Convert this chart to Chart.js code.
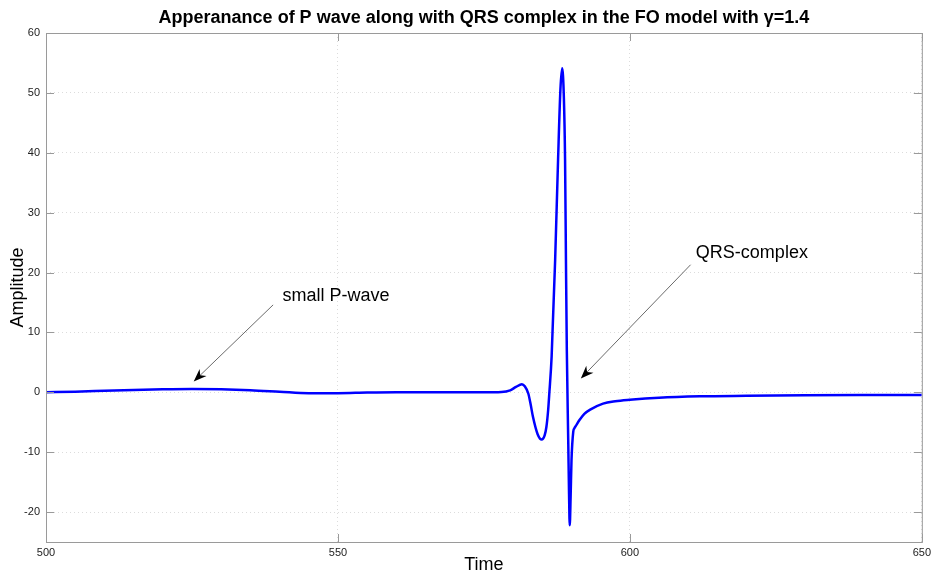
<!DOCTYPE html>
<html>
<head>
<meta charset="utf-8">
<script src="https://cdn.jsdelivr.net/npm/chart.js@4/dist/chart.umd.min.js"></script>
<style>
  html, body { margin: 0; padding: 0; background: #fff; }
  #wrap { width: 935px; height: 577px; }
</style>
</head>
<body>
<div id="wrap"><canvas id="ecg" width="935" height="577"></canvas></div>
<script>
// values
const times = [500, 505, 510, 515, 520, 525, 530, 535, 540, 545,
    550, 555, 560, 565, 570, 575, 578, 579.5, 580.5, 581.5,
    582.0, 582.6, 583.0, 583.4, 584.2, 584.9, 585.4, 585.7, 586.0, 586.2,
    586.6, 587.2, 587.7, 588.1, 588.4, 588.7, 588.9, 589.05, 589.2, 589.45,
    589.58, 589.7, 589.85, 590.0, 590.3, 590.5, 590.75, 591.4, 592.2, 593.2,
    595.4, 597.5, 600, 605, 612, 620, 630, 640, 650];
const amplitude = [0, 0.1, 0.25, 0.4, 0.5, 0.55, 0.5, 0.35, 0.1, -0.15,
    -0.15, -0.05, 0, 0, 0, 0, 0.05, 0.33, 0.9, 1.35,
    1.0, -0.2, -2.0, -4.1, -7.0, -7.9, -7.2, -5.8, -3.0, -0.2,
    6.0, 22.1, 38.8, 50.5, 54.1, 49.0, 38.8, 22.1, 7.0, -8.6,
    -17.0, -22.2, -17.5, -11.4, -6.6, -6.0, -5.6, -4.6, -3.6, -2.9,
    -1.9, -1.5, -1.25, -0.9, -0.67, -0.58, -0.5, -0.47, -0.45];
const xTicks = [500, 550, 600, 650];
const yTicks = [-20, -10, 0, 10, 20, 30, 40, 50, 60];

const titleText = 'Apperanance of P wave along with QRS complex in the FO model with \u03b3=1.4';

// annotations, in data units: text anchor and arrow tail -> head
const notes = [
    { text: 'small P-wave', tx: 540.5, ty: 16.0, from: [538.9, 14.6], to: [525.3, 1.8] },
    { text: 'QRS-complex', tx: 611.3, ty: 23.2, from: [610.4, 21.3], to: [591.6, 2.3] }
];

const FONT = 'Arial, "Liberation Sans", sans-serif';

// box, inward ticks, title and arrows
const framePlugin = {
    id: 'frame',
    afterDraw(chart) {
        const { ctx, chartArea: a, scales } = chart;
        ctx.save();
        ctx.strokeStyle = '#9a9a9a';
        ctx.lineWidth = 1;
        ctx.strokeRect(a.left + 0.5, a.top + 0.5, a.right - a.left, a.bottom - a.top);
        ctx.beginPath();
        yTicks.forEach(v => {
            const y = Math.round(scales.y.getPixelForValue(v)) + 0.5;
            ctx.moveTo(a.left, y); ctx.lineTo(a.left + 8, y);
            ctx.moveTo(a.right, y); ctx.lineTo(a.right - 8, y);
        });
        xTicks.forEach(v => {
            const x = Math.round(scales.x.getPixelForValue(v)) + 0.5;
            ctx.moveTo(x, a.bottom); ctx.lineTo(x, a.bottom - 8);
            ctx.moveTo(x, a.top); ctx.lineTo(x, a.top + 8);
        });
        ctx.stroke();

        // title
        ctx.fillStyle = '#000';
        ctx.font = 'bold 18px ' + FONT;
        ctx.textAlign = 'center';
        ctx.textBaseline = 'middle';
        ctx.fillText(titleText, (a.left + a.right) / 2, 18);

        // arrows with labels
        notes.forEach(n => {
            const x0 = scales.x.getPixelForValue(n.from[0]), y0 = scales.y.getPixelForValue(n.from[1]);
            const x1 = scales.x.getPixelForValue(n.to[0]), y1 = scales.y.getPixelForValue(n.to[1]);
            const c = Math.cos(Math.atan2(y1 - y0, x1 - x0)), s = Math.sin(Math.atan2(y1 - y0, x1 - x0));
            ctx.strokeStyle = '#6a6a6a';
            ctx.lineWidth = 1;
            ctx.beginPath();
            ctx.moveTo(x0, y0);
            ctx.lineTo(x1 - 8 * c, y1 - 8 * s);
            ctx.stroke();
            ctx.fillStyle = '#000';
            ctx.beginPath();
            ctx.moveTo(x1, y1);
            ctx.lineTo(x1 - 13 * c + 5 * s, y1 - 13 * s - 5 * c);
            ctx.lineTo(x1 - 9 * c, y1 - 9 * s);
            ctx.lineTo(x1 - 13 * c - 5 * s, y1 - 13 * s + 5 * c);
            ctx.closePath();
            ctx.fill();
            ctx.font = '18px ' + FONT;
            ctx.textAlign = 'left';
            ctx.textBaseline = 'middle';
            ctx.fillText(n.text, scales.x.getPixelForValue(n.tx), scales.y.getPixelForValue(n.ty));
        });
        ctx.restore();
    }
};

new Chart(document.getElementById('ecg'), {
    type: 'line',
    data: {
        datasets: [{
            label: 'signal',
            data: times.map((t, i) => ({ x: t, y: amplitude[i] })),
            borderColor: '#0000ff',
            borderWidth: 2.5,
            pointRadius: 0,
            fill: false,
            cubicInterpolationMode: 'monotone'
        }]
    },
    options: {
        responsive: false,
        animation: false,
        layout: { padding: { left: 0, right: 13, top: 33, bottom: 0 } },
        plugins: {
            legend: { display: false },
            title: { display: false },
            tooltip: { enabled: false }
        },
        scales: {
            x: {
                type: 'linear',
                min: 500,
                max: 650,
                afterBuildTicks: s => { s.ticks = xTicks.map(v => ({ value: v })); },
                afterFit: s => { s.height = 35; },
                grid: { color: '#dcdcdc', drawTicks: false },
                border: { display: false, dash: [1, 3] },
                ticks: { padding: 4, color: '#222', font: { family: FONT, size: 11 }, maxRotation: 0 },
                title: { display: true, text: 'Time', color: '#000', font: { family: FONT, size: 18 }, padding: { top: 0, bottom: 1 } }
            },
            y: {
                min: -25,
                max: 60,
                afterBuildTicks: s => { s.ticks = yTicks.map(v => ({ value: v })); },
                afterFit: s => { s.width = 46; },
                grid: { color: '#dcdcdc', drawTicks: false },
                border: { display: false, dash: [1, 3] },
                ticks: { padding: 6, color: '#222', font: { family: FONT, size: 11 } },
                title: { display: true, text: 'Amplitude', color: '#000', font: { family: FONT, size: 18 }, padding: { top: 7, bottom: 0 } }
            }
        }
    },
    plugins: [framePlugin]
});
</script>
</body>
</html>
